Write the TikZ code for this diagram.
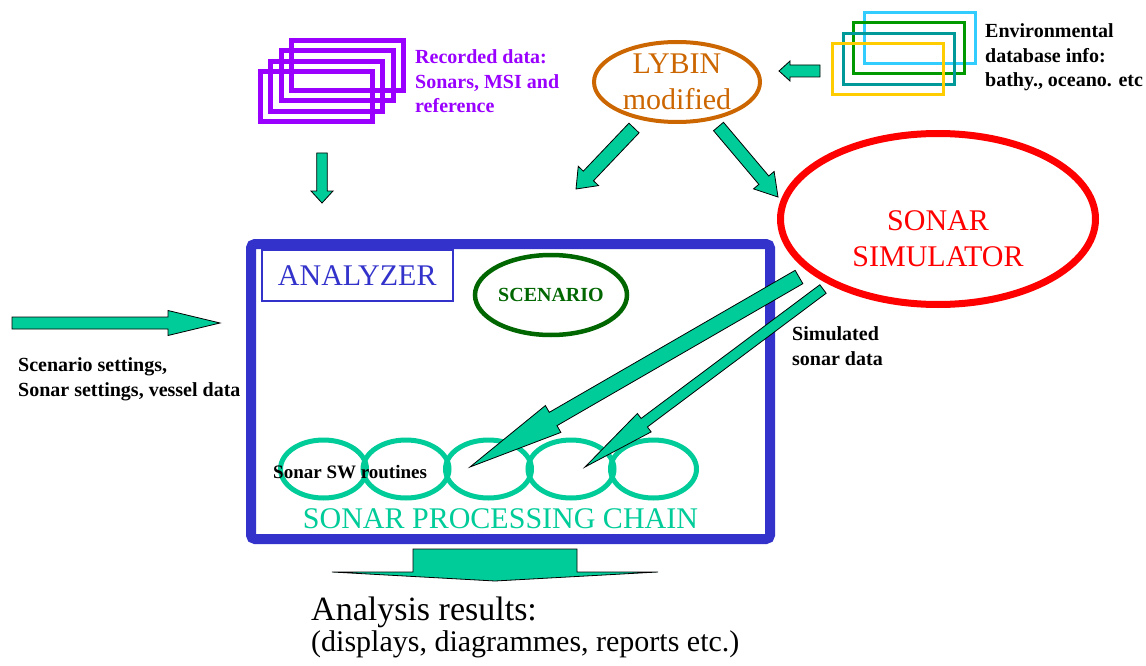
\documentclass[tikz,border=0pt]{standalone}
\usepackage{fontspec}
\setmainfont{Liberation Serif}
\usepackage{xcolor}
\definecolor{flowgreen}{RGB}{0,204,153}
\definecolor{anablue}{RGB}{51,51,204}
\definecolor{recpurple}{RGB}{153,0,255}
\definecolor{lybinorange}{RGB}{204,102,0}
\definecolor{scengreen}{RGB}{0,102,0}
\definecolor{envyellow}{RGB}{255,204,0}
\definecolor{envteal}{RGB}{0,153,153}
\definecolor{envgreen}{RGB}{0,153,0}
\definecolor{envcyan}{RGB}{51,204,255}
\usetikzlibrary{calc,shapes.geometric}

\tikzset{
  fat/.style={draw=black, line width=0.8pt, fill=flowgreen},
  oval/.style={ellipse, inner sep=0pt},
  boldlabel/.style={font=\fontsize{20}{24.5}\selectfont\bfseries, align=left,
                    inner sep=0pt, anchor=base west},
  bigtext/.style={font=\fontsize{30}{36}\selectfont, inner sep=0pt},
}

% block arrow: tail, tip, half shaft, half head, head length
\newcommand{\fatarrow}[5]{%
  \coordinate (fathead) at ($(#2)!#5!(#1)$);
  \filldraw[fat] ($(#1)!#3!90:(#2)$) -- ($(fathead)!#3!90:(#2)$)
    -- ($(fathead)!#4!90:(#2)$) -- (#2) -- ($(fathead)!#4!-90:(#2)$)
    -- ($(fathead)!#3!-90:(#2)$) -- ($(#1)!#3!-90:(#2)$) -- cycle;
}

\begin{document}
\begin{tikzpicture}[x=1pt, y=-1pt]
  \useasboundingbox (0,0) rectangle (1146,666);

  % recorded data
  \foreach \i in {3,2,1,0}
    \draw[recpurple, line width=5pt] ({260.5+10.3*\i},{71.5-10.3*\i}) rectangle +(112,50);
  \node[boldlabel, text=recpurple] (rectext) at (415,113) {Recorded data:\\Sonars, MSI and\\reference};

  % environmental database
  \foreach \c [count=\i from 0] in {envcyan,envgreen,envteal,envyellow}
    \draw[\c, line width=3pt] ({864-10.5*\i},{12.5+10.5*\i}) rectangle +(111,51);
  \node[boldlabel] (envtext) at (985,87) {Environmental\\database info:\\bathy., oceano. etc};

  % LYBIN and simulator
  \node[oval, draw=lybinorange, line width=4pt, minimum width=166pt, minimum height=80pt,
        text=lybinorange, font=\fontsize{30}{36}\selectfont, align=center] (lybin) at (677,82) {LYBIN\\modified};
  \node[oval, draw=red, line width=7pt, minimum width=315pt, minimum height=171pt] (simulator) at (938,219) {};
  \node[bigtext, text=red, align=center] (simtext) at ([yshift=-20pt]simulator.center) {SONAR\\SIMULATOR};

  % analyzer
  \node[draw=anablue, line width=10pt, rounded corners=4pt, fill=white,
        minimum width=519pt, minimum height=295pt] (analyzer) at (510.5,391.5) {};
  \node[draw=anablue, line width=1.5pt, text=anablue, bigtext, anchor=north west,
        minimum width=191pt, minimum height=51pt] (analyzertext) at (261,249) {ANALYZER};
  \node[oval, draw=scengreen, line width=4.5pt, minimum width=152pt, minimum height=80pt,
        text=scengreen, font=\fontsize{20}{24}\selectfont\bfseries] (scenario) at (551,295) {SCENARIO};

  % processing chain
  \foreach \k in {0,...,4}
    \node[oval, draw=flowgreen, line width=5pt, minimum width=86pt, minimum height=58pt] (ring\k) at ({323.5+82.5*\k},469) {};
  \node[inner sep=0pt, anchor=base west, font=\fontsize{19}{23}\selectfont\bfseries] (swtext) at (273,478) {Sonar SW routines};
  \node[bigtext, text=flowgreen, anchor=base] (chaintext) at (500.5,528) {SONAR PROCESSING CHAIN};

  % inputs
  \node[boldlabel] (settings) at (18,396) {Scenario settings,\\Sonar settings, vessel data};
  \node[boldlabel] (simdata) at (792,365) {Simulated\\sonar data};

  % arrows
  \coordinate (recout) at (322,153);   \coordinate (recin) at (322,203);
  \coordinate (envout) at (820,71);    \coordinate (envin) at (779,71);
  \coordinate (lybout1) at (634,128);  \coordinate (lybin1) at (576,189);
  \coordinate (lybout2) at (718.5,126.5); \coordinate (lybin2) at (778,197);
  \coordinate (setout) at (12,323);    \coordinate (setin) at (220,323);
  \coordinate (simout1) at (799,277);  \coordinate (simin1) at (470,467);
  \coordinate (simout2) at (823,289);  \coordinate (simin2) at (585,467);
  \fatarrow{recout}{recin}{5.3pt}{11pt}{12pt}
  \fatarrow{envout}{envin}{6pt}{10pt}{11pt}
  \fatarrow{lybout1}{lybin1}{7pt}{14pt}{18pt}
  \fatarrow{lybout2}{lybin2}{6.5pt}{13.5pt}{22pt}
  \fatarrow{setout}{setin}{6pt}{12.5pt}{52pt}
  \fatarrow{simout1}{simin1}{7.7pt}{15.5pt}{96pt}
  \fatarrow{simout2}{simin2}{5.3pt}{11.5pt}{74pt}

  % results
  \filldraw[fat] (413,549) -- (577,549) -- (577,572) -- (658,572) -- (495,581)
    -- (332,572) -- (413,572) -- cycle;
  \node[inner sep=0pt, anchor=base west, font=\fontsize{34}{40}\selectfont] (results) at (311,620) {Analysis results:};
  \node[bigtext, anchor=base west] (resultsub) at (311,651) {(displays, diagrammes, reports etc.)};
\end{tikzpicture}
\end{document}
